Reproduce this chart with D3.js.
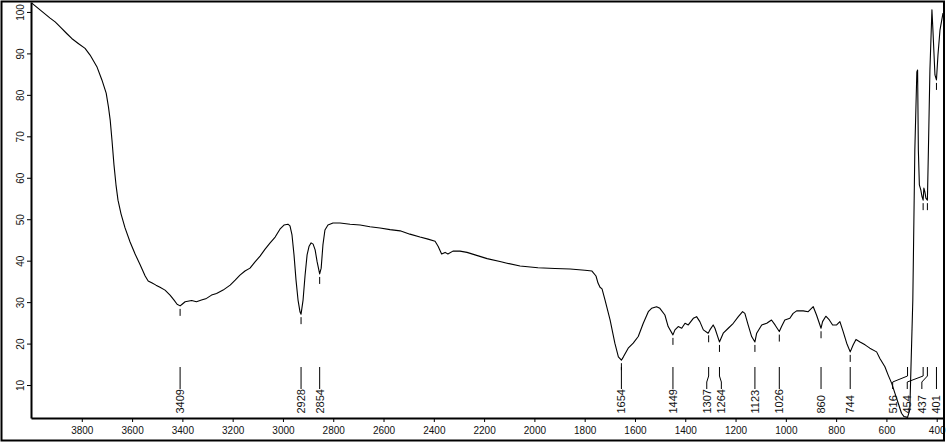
<!DOCTYPE html>
<html>
<head>
<meta charset="utf-8">
<script src="https://cdn.jsdelivr.net/npm/d3@7"></script>
<style>
  html, body { margin: 0; padding: 0; background: #fff; }
  svg { display: block; font-family: "Liberation Sans", Arial, sans-serif; }
</style>
</head>
<body>
<svg id="chart" width="946" height="443"></svg>
<script>
// Wavenumber (cm-1)
const wavenumbers = [4000,3966,3926,3906,3886,3860,3840,3814,3787,3767,3740,3720,3703,3694,3687,3680,3672,3664,3656,3644,3628,3608,3588,3568,3548,3536,3520,3505,3489,3469,3449,3433,3421,3409,3401,3389,3363,3344,3324,3304,3284,3264,3238,3210,3190,3171,3151,3131,3111,3091,3071,3051,3031,3012,2996,2980,2972,2964,2956,2948,2940,2932,2928,2920,2912,2904,2896,2888,2880,2872,2864,2854,2848,2841,2833,2821,2801,2773,2733,2693,2654,2614,2574,2534,2495,2455,2423,2395,2383,2369,2355,2344,2324,2296,2268,2236,2188,2137,2109,2057,1986,1918,1858,1799,1771,1755,1747,1739,1731,1719,1699,1680,1666,1654,1646,1627,1607,1587,1567,1547,1534,1514,1501,1481,1468,1449,1441,1428,1414,1401,1388,1368,1355,1342,1328,1309,1302,1289,1282,1269,1264,1249,1229,1209,1189,1172,1163,1150,1136,1123,1116,1096,1076,1057,1043,1026,1017,1004,984,971,957,931,911,891,878,860,854,841,827,814,798,785,772,758,744,732,721,705,685,666,639,626,606,593,579,566,553,540,530,516,507,495,487,479,476,473,469,463,459,454,451,447,443,437,433,427,419,415,407,401,395,387,375];
// Transmittance (%)
const transmittance = [102.2,100.5,98.5,97.6,96.4,94.8,93.6,92.4,91.2,89.6,86.8,83.6,80.4,77.1,73.9,69.1,63.1,58.3,54.6,51.3,47.9,44.5,41.6,39.0,36.3,35.1,34.6,34.1,33.6,32.9,31.7,30.5,29.5,29.1,29.5,30.1,30.4,30.1,30.5,30.9,31.7,32.1,32.9,34.1,35.3,36.5,37.5,38.2,39.7,41.1,42.8,44.3,45.7,47.6,48.6,48.8,48.4,46.2,41.4,35.3,30.5,27.6,27.1,30.5,36.5,41.4,43.5,44.3,44.0,42.6,39.7,36.8,38.2,43.8,47.4,48.6,49.1,49.1,48.8,48.6,48.2,47.9,47.5,47.2,46.4,45.7,45.2,44.7,43.5,41.6,42.0,41.6,42.3,42.3,42.0,41.4,40.5,39.8,39.4,38.7,38.3,38.1,38.0,37.7,37.5,36.3,34.6,33.6,33.2,30.5,25.7,20.1,16.8,16.0,16.8,18.9,20.1,21.7,24.9,27.7,28.5,28.9,28.5,26.9,24.1,22.1,23.3,24.1,23.7,24.9,24.5,26.1,26.5,25.3,23.3,22.5,23.3,24.5,23.7,21.3,20.4,22.5,23.7,24.9,26.5,27.7,27.3,24.5,21.7,20.4,22.5,24.5,24.9,25.7,24.5,22.9,24.1,25.7,26.1,27.3,27.9,27.9,27.7,28.9,26.9,23.7,25.3,26.6,25.7,24.5,24.5,25.3,22.9,20.1,18.0,19.7,21.0,20.4,19.7,18.9,18.0,16.4,14.4,12.4,10.4,8.0,5.6,3.2,2.4,2.2,4.0,30.5,66.7,85.5,86.0,66.7,58.3,57.0,55.6,54.6,57.5,56.6,55.1,54.6,66.7,86.0,100.5,95.6,84.8,83.6,89.6,95.6,99.7];
// Labelled peaks (cm-1)
const peakLabels = [3409,2928,2854,1654,1449,1307,1264,1123,1026,860,744,516,454,437,401];
// Axis tick labels
const xTickValues = [3800,3600,3400,3200,3000,2800,2600,2400,2200,2000,1800,1600,1400,1200,1000,800,600,400];
const yTickValues = [10,20,30,40,50,60,70,80,90,100];

const svg = d3.select("#chart");
const W = 946, H = 443;
const L = 31, R = 944, T = 2, B = 418;

svg.append("rect").attr("width", W).attr("height", H).attr("fill", "#fff");

const x = d3.scaleLinear().domain([4002, 371]).range([L, R]);
const y = d3.scaleLinear().domain([2.05, 102.4]).range([B, T]);

const data = wavenumbers.map((w, i) => ({w, t: transmittance[i]}));

// Axes
const xAxis = d3.axisBottom(x).tickValues(xTickValues).tickSize(4).tickSizeOuter(0).tickPadding(5).tickFormat(d3.format("d"));
const gx = svg.append("g").attr("transform", `translate(0,${B})`).call(xAxis);
gx.select(".domain").attr("stroke", "#000").attr("stroke-width", 2);
gx.selectAll(".tick line").attr("stroke", "#000");
gx.selectAll(".tick text").attr("font-size", 10).attr("fill", "#111")
  .attr("font-family", "'Liberation Sans', Arial, sans-serif");

const yAxis = d3.axisLeft(y).tickValues(yTickValues).tickSize(4).tickSizeOuter(0);
const gy = svg.append("g").attr("transform", `translate(${L},0)`).call(yAxis);
gy.select(".domain").attr("stroke", "#000").attr("stroke-width", 2);
gy.selectAll(".tick line").attr("stroke", "#000");
gy.selectAll(".tick text").attr("font-size", 10).attr("fill", "#111")
  .attr("font-family", "'Liberation Sans', Arial, sans-serif")
  .attr("transform", "rotate(-90)")
  .attr("x", 0).attr("y", -7).attr("dy", 0)
  .attr("text-anchor", "middle");

// Spectrum curve
const clipId = "plotclip";
svg.append("clipPath").attr("id", clipId).append("rect")
  .attr("x", L).attr("y", T).attr("width", R - L).attr("height", B - T);
svg.append("path").datum(data)
  .attr("clip-path", `url(#${clipId})`)
  .attr("fill", "none").attr("stroke", "#000").attr("stroke-width", 1.1)
  .attr("stroke-linejoin", "round")
  .attr("d", d3.line().x(d => x(d.w)).y(d => y(d.t)));

// interpolate transmittance at a wavenumber
const asc = data.slice().sort((a, b) => a.w - b.w);
const bis = d3.bisector(d => d.w).left;
function tAt(w) {
  const i = bis(asc, w);
  if (i <= 0) return asc[0].t;
  if (i >= asc.length) return asc[asc.length - 1].t;
  const a = asc[i - 1], b = asc[i];
  return a.t + (b.t - a.t) * (w - a.w) / (b.w - a.w);
}

// Peak label positions with simple collision relaxation
const peaks = peakLabels.map(w => ({w, px: x(w)})).sort((a, b) => a.px - b.px);
peaks.forEach(p => p.lx = p.px);
const gap = 14.6, maxX = x(401);
for (let it = 0; it < 300; it++) {
  for (let i = 0; i < peaks.length - 1; i++) {
    const diff = peaks[i + 1].lx - peaks[i].lx;
    if (diff < gap) {
      const d = (gap - diff) / 2;
      peaks[i].lx -= d; peaks[i + 1].lx += d;
    }
  }
  peaks.forEach(p => { if (p.lx > maxX) p.lx = maxX; });
}

const gp = svg.append("g").attr("stroke", "#000").attr("fill", "none").attr("stroke-width", 1);
peaks.forEach(p => {
  // short marker under the curve minimum
  const yc = y(tAt(p.w));
  if (yc + 10 < 405) {
    gp.append("line").attr("x1", p.px).attr("x2", p.px)
      .attr("y1", yc + 3).attr("y2", yc + 10);
  }
  // leader line
  if (Math.abs(p.lx - p.px) < 0.6) {
    gp.append("line").attr("x1", p.px).attr("x2", p.px).attr("y1", 367).attr("y2", 389);
  } else {
    gp.append("path").attr("d", `M${p.px},367V376L${p.lx},382V389`);
  }
  svg.append("text")
    .attr("transform", `translate(${p.lx},413.5) rotate(-90)`)
    .attr("text-anchor", "start").attr("dy", "0.36em")
    .attr("font-size", 11).attr("fill", "#111")
    .text(p.w);
});

// Outer frame
svg.append("rect").attr("x", 1.5).attr("y", 1.5).attr("width", 942.5).attr("height", 439)
  .attr("fill", "none").attr("stroke", "#000").attr("stroke-width", 2);
</script>
</body>
</html>
